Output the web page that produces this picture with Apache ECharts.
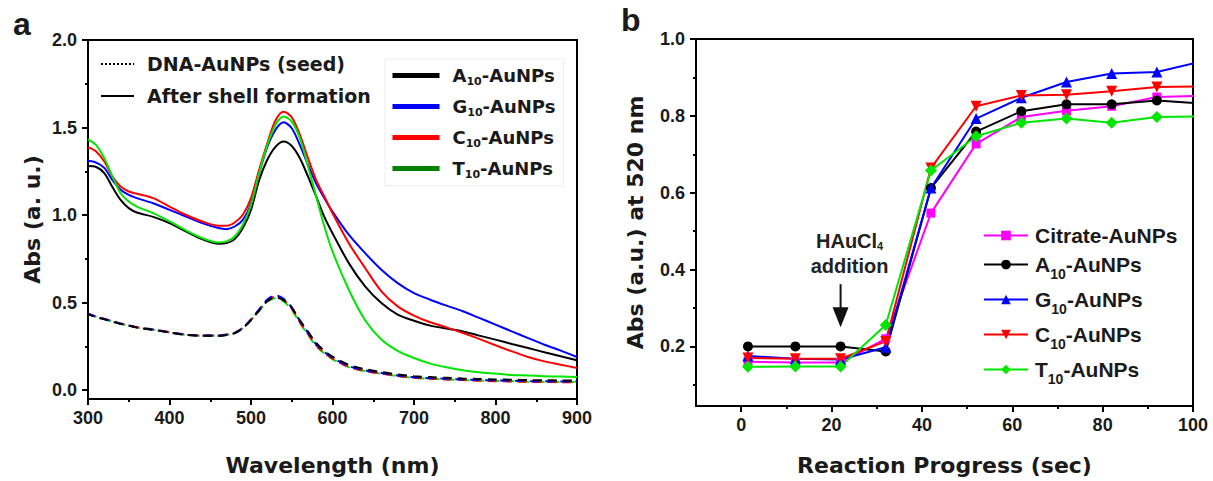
<!DOCTYPE html>
<html><head><meta charset="utf-8">
<script src="https://cdn.jsdelivr.net/npm/echarts@6/dist/echarts.min.js"></script>
<style>html,body{margin:0;padding:0;background:#fff}#c{width:1213px;height:481px}</style>
</head><body><div id="c"></div>
<script>
// ---------- Panel a: UV-vis spectra ----------
const wavelength = [300,310,320,330,340,350,360,380,400,420,440,460,470,480,490,500,510,520,530,540,550,560,570,580,590,600,620,640,660,680,700,720,740,760,780,800,820,840,860,880,900];
const shellA10 = [1.28,1.275,1.24,1.16,1.087,1.04,1.015,0.99,0.954,0.907,0.863,0.837,0.84,0.863,0.926,1.03,1.20,1.316,1.39,1.42,1.395,1.325,1.22,1.106,0.99,0.897,0.726,0.593,0.498,0.432,0.397,0.369,0.352,0.336,0.312,0.289,0.264,0.241,0.217,0.194,0.171];
const shellG10 = [1.31,1.30,1.27,1.20,1.145,1.115,1.097,1.068,1.03,0.992,0.954,0.926,0.92,0.935,0.973,1.068,1.24,1.39,1.487,1.53,1.496,1.40,1.287,1.18,1.097,1.02,0.888,0.783,0.688,0.612,0.555,0.517,0.483,0.451,0.413,0.375,0.336,0.298,0.26,0.226,0.19];
const shellC10 = [1.388,1.363,1.306,1.22,1.163,1.135,1.122,1.097,1.049,1.002,0.964,0.939,0.939,0.958,1.002,1.097,1.259,1.41,1.54,1.59,1.559,1.458,1.325,1.2,1.106,1.011,0.84,0.698,0.565,0.479,0.426,0.388,0.359,0.327,0.293,0.257,0.222,0.19,0.165,0.146,0.127];
const shellT10 = [1.433,1.40,1.325,1.22,1.125,1.078,1.049,1.011,0.964,0.913,0.869,0.844,0.85,0.878,0.945,1.059,1.24,1.40,1.515,1.563,1.534,1.439,1.278,1.106,0.935,0.793,0.574,0.40,0.29,0.225,0.184,0.152,0.131,0.114,0.103,0.095,0.087,0.084,0.08,0.078,0.076];
const seedA10 = [0.435,0.418,0.405,0.392,0.379,0.369,0.358,0.345,0.330,0.316,0.311,0.311,0.316,0.326,0.355,0.400,0.455,0.508,0.530,0.515,0.472,0.40,0.335,0.27,0.225,0.192,0.145,0.12,0.104,0.09,0.08,0.075,0.071,0.067,0.064,0.062,0.06,0.058,0.057,0.056,0.055];
const seedG10 = [0.437,0.42,0.407,0.393,0.38,0.37,0.359,0.346,0.331,0.317,0.312,0.312,0.317,0.327,0.356,0.405,0.462,0.518,0.542,0.522,0.472,0.395,0.327,0.262,0.218,0.185,0.138,0.114,0.099,0.084,0.074,0.069,0.065,0.061,0.058,0.056,0.054,0.052,0.051,0.05,0.05];
const seedC10 = [0.438,0.421,0.408,0.394,0.381,0.371,0.36,0.347,0.332,0.318,0.313,0.313,0.318,0.328,0.357,0.403,0.46,0.513,0.535,0.515,0.466,0.389,0.322,0.256,0.213,0.18,0.133,0.11,0.095,0.081,0.071,0.066,0.062,0.058,0.054,0.052,0.05,0.048,0.047,0.046,0.046];
const seedT10 = [0.436,0.419,0.406,0.392,0.379,0.369,0.358,0.345,0.33,0.316,0.311,0.311,0.316,0.326,0.354,0.4,0.455,0.505,0.525,0.507,0.46,0.383,0.317,0.252,0.21,0.178,0.132,0.109,0.095,0.081,0.071,0.066,0.062,0.058,0.055,0.053,0.051,0.049,0.048,0.047,0.047];
const leftYTicks = [0, 0.5, 1.0, 1.5, 2.0];
const leftYMinor = [0.25, 0.75, 1.25, 1.75];

// ---------- Panel b: kinetics at 520 nm ----------
const timeSec = [1.5,12,22,32,42,52,62,72,82,92,102];
const absCitrate = [0.16,0.158,0.158,0.22,0.547,0.727,0.797,0.813,0.825,0.849,0.852];
const absA10 = [0.2,0.2,0.2,0.187,0.612,0.759,0.812,0.83,0.83,0.84,0.832];
const absG10 = [0.175,0.168,0.166,0.198,0.612,0.793,0.847,0.888,0.91,0.914,0.942];
const absC10 = [0.17,0.168,0.168,0.213,0.664,0.825,0.853,0.855,0.864,0.875,0.877];
const absT10 = [0.147,0.148,0.148,0.256,0.658,0.747,0.782,0.793,0.782,0.797,0.799];
const rightXTicks = [0,20,40,60,80,100];
const rightXMinor = [10,30,50,70,90];
const rightYTicks = [0.2,0.4,0.6,0.8,1.0];
const rightYMinor = [0.1,0.3,0.5,0.7,0.9];

const pair = (xs, ys) => xs.map((x, i) => [x, ys[i]]);
const TXT = '#1a1a1a';
const tickFont = {fontFamily: 'Liberation Sans', fontWeight: 'bold', fontSize: 18, color: TXT};
const titleFont = {fontFamily: 'DejaVu Sans', fontWeight: 'bold', fontSize: 22, color: TXT};
const axLine = {show: true, onZero: false, lineStyle: {color: '#000', width: 2}};
const noLine = {show: false, onZero: false};

function subRich(name) {
  const n = name.replace(' (b)', '');
  const m = n.match(/^([A-Z])10(-AuNPs)$/);
  if (m) return '{m|' + m[1] + '}{s|10}{m|' + m[2] + '}';
  return '{m|' + n + '}';
}

const chart = echarts.init(document.getElementById('c'), null, {renderer: 'svg'});

const leftSolid = [
  ['A10-AuNPs', shellA10, '#000000'],
  ['G10-AuNPs', shellG10, '#0000ff'],
  ['C10-AuNPs', shellC10, '#ff0000'],
  ['T10-AuNPs', shellT10, '#00e600']
];
const leftSeed = [
  ['seed T10', seedT10, '#00e600', 0],
  ['seed C10', seedC10, '#ff0000', 1],
  ['seed G10', seedG10, '#0000ff', 2],
  ['seed A10', seedA10, '#000000', 3]
];
const rightSeries = [
  ['Citrate-AuNPs', absCitrate, '#ff00ff', 'rect', 9, 0],
  ['A10-AuNPs (b)', absA10, '#000000', 'circle', 10, 0],
  ['G10-AuNPs (b)', absG10, '#0000ff', 'triangle', 11, 0],
  ['C10-AuNPs (b)', absC10, '#ff0000', 'triangle', 11, 180],
  ['T10-AuNPs (b)', absT10, '#00e600', 'diamond', 12, 0]
];

const series = [];
leftSeed.forEach(([n, d, c, off]) => series.push({
  name: n, type: 'line', xAxisIndex: 0, yAxisIndex: 0, data: pair(wavelength, d),
  symbol: 'none', smooth: 0.3, color: c, lineStyle: {width: 2, type: [9, 6], dashOffset: off, color: c}, z: 2
}));
leftSolid.forEach(([n, d, c]) => series.push({
  name: n, type: 'line', xAxisIndex: 0, yAxisIndex: 0, data: pair(wavelength, d),
  symbol: 'none', smooth: 0.3, color: c, lineStyle: {width: 2, color: c}, z: 3
}));
series.push({name: 'DNA-AuNPs (seed)', type: 'line', xAxisIndex: 0, yAxisIndex: 0, data: [], symbol: 'none', color: '#000', lineStyle: {width: 2, type: 'dotted', color: '#000'}});
series.push({name: 'After shell formation', type: 'line', xAxisIndex: 0, yAxisIndex: 0, data: [], symbol: 'none', color: '#000', lineStyle: {width: 2, color: '#000'}});
rightSeries.forEach(([n, d, c, sym, sz, rot]) => series.push({
  name: n, type: 'line', xAxisIndex: 1, yAxisIndex: 2, data: pair(timeSec, d),
  symbol: sym, symbolSize: sz, symbolRotate: rot, color: c, showAllSymbol: true,
  lineStyle: {width: 2, color: c}, itemStyle: {color: c}, z: 3, clip: true
}));

const option = {
  animation: false,
  backgroundColor: '#fff',
  grid: [
    {left: 88, top: 40, right: 636, bottom: 82, show: true, borderColor: '#000', borderWidth: 2},
    {left: 696, top: 39, right: 20, bottom: 74, show: true, borderColor: '#000', borderWidth: 2}
  ],
  xAxis: [
    {type: 'value', gridIndex: 0, position: 'bottom', min: 300, max: 900, interval: 100,
     axisLine: axLine, splitLine: {show: false},
     axisTick: {show: true, inside: false, length: 6, lineStyle: {color: '#000', width: 2}},
     minorTick: {show: true, splitNumber: 2, length: 3, lineStyle: {color: '#000', width: 2}},
     axisLabel: Object.assign({margin: 10}, tickFont),
     name: 'Wavelength (nm)', nameLocation: 'middle', nameGap: 55, nameTextStyle: titleFont},
    {type: 'value', gridIndex: 1, position: 'bottom', min: -10, max: 100,
     axisLine: axLine, splitLine: {show: false},
     axisTick: {show: true, inside: false, length: 6, customValues: rightXTicks, lineStyle: {color: '#000', width: 2}},
     axisLabel: Object.assign({margin: 10, customValues: rightXTicks, formatter: v => String(v)}, tickFont),
     name: 'Reaction Progress (sec)', nameLocation: 'middle', nameGap: 48, nameTextStyle: titleFont},
    {type: 'value', gridIndex: 1, position: 'bottom', min: -10, max: 100,
     axisLine: noLine, splitLine: {show: false}, axisLabel: {show: false},
     axisTick: {show: true, inside: false, length: 3, customValues: rightXMinor, lineStyle: {color: '#000', width: 2}}}
  ],
  yAxis: [
    {type: 'value', gridIndex: 0, position: 'left', min: -0.05, max: 2.0,
     axisLine: axLine, splitLine: {show: false},
     axisTick: {show: true, inside: false, length: 6, customValues: leftYTicks, lineStyle: {color: '#000', width: 2}},
     axisLabel: Object.assign({margin: 11, customValues: leftYTicks, formatter: v => v.toFixed(1)}, tickFont),
     name: 'Abs (a. u.)', nameLocation: 'middle', nameGap: 45, nameTextStyle: titleFont},
    {type: 'value', gridIndex: 0, position: 'left', min: -0.05, max: 2.0,
     axisLine: noLine, splitLine: {show: false}, axisLabel: {show: false},
     axisTick: {show: true, inside: false, length: 3, customValues: leftYMinor, lineStyle: {color: '#000', width: 2}}},
    {type: 'value', gridIndex: 1, position: 'left', min: 0.045, max: 1.0,
     axisLine: axLine, splitLine: {show: false},
     axisTick: {show: true, inside: false, length: 6, customValues: rightYTicks, lineStyle: {color: '#000', width: 2}},
     axisLabel: Object.assign({margin: 11, customValues: rightYTicks, formatter: v => v.toFixed(1)}, tickFont),
     name: 'Abs (a.u.) at 520 nm', nameLocation: 'middle', nameGap: 50, nameTextStyle: titleFont},
    {type: 'value', gridIndex: 1, position: 'left', min: 0.045, max: 1.0,
     axisLine: noLine, splitLine: {show: false}, axisLabel: {show: false},
     axisTick: {show: true, inside: false, length: 3, customValues: rightYMinor, lineStyle: {color: '#000', width: 2}}}
  ],
  legend: [
    {data: ['DNA-AuNPs (seed)', 'After shell formation'], orient: 'vertical', left: 100, top: 53,
     padding: 0, itemWidth: 33, itemHeight: 14, itemGap: 10, selectedMode: false,
     itemStyle: {opacity: 0},
     textStyle: {fontFamily: 'DejaVu Sans', fontWeight: 'bold', fontSize: 19, color: TXT, lineHeight: 22, padding: [0, 0, 0, 8]}},
    {data: ['A10-AuNPs', 'G10-AuNPs', 'C10-AuNPs', {name: 'T10-AuNPs', lineStyle: {color: '#008000'}}],
     orient: 'vertical', left: 385, top: 59, padding: [5, 8, 6, 5], borderColor: '#ececec', borderWidth: 1,
     itemWidth: 47, itemHeight: 14, itemGap: 8, selectedMode: false, lineStyle: {width: 5},
     itemStyle: {opacity: 0},
     formatter: subRich,
     textStyle: {color: TXT, padding: [0, 0, 0, 8], rich: {
       m: {fontFamily: 'DejaVu Sans', fontWeight: 'bold', fontSize: 18, lineHeight: 20, color: TXT},
       s: {fontFamily: 'DejaVu Sans', fontWeight: 'bold', fontSize: 11, lineHeight: 12, padding: [12, 0, 0, 0], color: TXT}}}},
    {data: rightSeries.map(r => r[0]), orient: 'vertical', left: 983, top: 225, padding: 0,
     itemWidth: 44, itemHeight: 12, itemGap: 2, selectedMode: false,
     formatter: subRich,
     textStyle: {color: TXT, padding: [0, 0, 0, 2], rich: {
       m: {fontFamily: 'Liberation Sans', fontWeight: 'bold', fontSize: 21, lineHeight: 20, color: TXT},
       s: {fontFamily: 'Liberation Sans', fontWeight: 'bold', fontSize: 14, lineHeight: 16, padding: [19, 0, 0, 0], color: TXT}}}}
  ],
  series: series
};
chart.setOption(option);

// annotation arrow (data coordinates on panel b)
const annot = {x: 22, textX: 24, arrowTop: 0.362, arrowTip: 0.25, line1: 0.474, line2: 0.409};
const cv = (x, y) => chart.convertToPixel({xAxisIndex: 1, yAxisIndex: 2}, [x, y]);
const pTop = cv(annot.x, annot.arrowTop), pTip = cv(annot.x, annot.arrowTip);
const pL1 = cv(annot.textX, annot.line1), pL2 = cv(annot.textX, annot.line2);
const headH = 20, headW = 8;
chart.setOption({graphic: [
  {type: 'text', left: 13, top: 8, style: {text: 'a', fontFamily: 'Liberation Sans', fontWeight: 'bold', fontSize: 32, fill: TXT}},
  {type: 'text', left: 621, top: 4, style: {text: 'b', fontFamily: 'Liberation Sans', fontWeight: 'bold', fontSize: 32, fill: TXT}},
  {type: 'line', shape: {x1: pTop[0], y1: pTop[1], x2: pTip[0], y2: pTip[1] - headH + 2}, style: {stroke: '#111', lineWidth: 2}},
  {type: 'polygon', shape: {points: [[pTip[0] - headW, pTip[1] - headH], [pTip[0] + headW, pTip[1] - headH], [pTip[0], pTip[1]]]}, style: {fill: '#111'}},
  {type: 'text', x: pL1[0], y: pL1[1], style: {text: 'HAuCl{s|4}', align: 'center', verticalAlign: 'middle', fill: '#222',
    fontFamily: 'Liberation Sans', fontWeight: 'bold', fontSize: 20,
    rich: {s: {fontFamily: 'Liberation Sans', fontWeight: 'bold', fontSize: 11, padding: [9, 0, 0, 0], fill: '#222'}}}},
  {type: 'text', x: pL2[0], y: pL2[1], style: {text: 'addition', align: 'center', verticalAlign: 'middle', fill: '#222',
    fontFamily: 'Liberation Sans', fontWeight: 'bold', fontSize: 20}}
]});
</script>
</body></html>
